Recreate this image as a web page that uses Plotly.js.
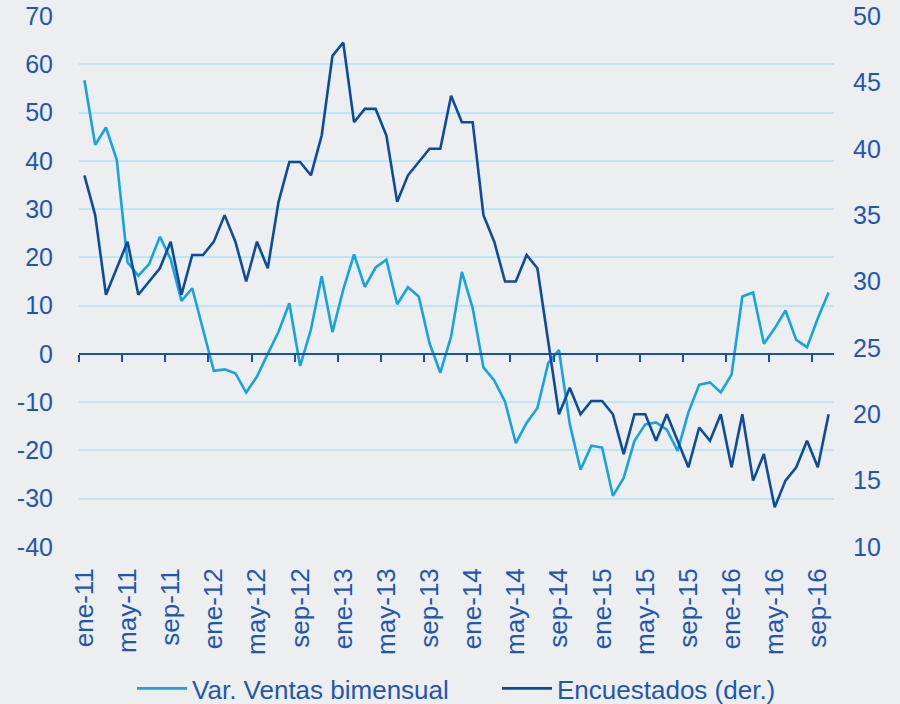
<!DOCTYPE html>
<html>
<head>
<meta charset="utf-8">
<script src="https://cdn.plot.ly/plotly-3.0.1.min.js"></script>
<style>
  html, body { margin: 0; padding: 0; background: #eceef0; }
  #chart { width: 900px; height: 704px; }
</style>
</head>
<body>
<div id="chart"></div>
<script>
// Months (categories), ene-11 .. oct-16
const months = [
  "ene-11","feb-11","mar-11","abr-11","may-11","jun-11","jul-11","ago-11","sep-11","oct-11","nov-11","dic-11",
  "ene-12","feb-12","mar-12","abr-12","may-12","jun-12","jul-12","ago-12","sep-12","oct-12","nov-12","dic-12",
  "ene-13","feb-13","mar-13","abr-13","may-13","jun-13","jul-13","ago-13","sep-13","oct-13","nov-13","dic-13",
  "ene-14","feb-14","mar-14","abr-14","may-14","jun-14","jul-14","ago-14","sep-14","oct-14","nov-14","dic-14",
  "ene-15","feb-15","mar-15","abr-15","may-15","jun-15","jul-15","ago-15","sep-15","oct-15","nov-15","dic-15",
  "ene-16","feb-16","mar-16","abr-16","may-16","jun-16","jul-16","ago-16","sep-16","oct-16"
];

// Tick labels shown on the x axis
const tickLabels = ["ene-11","may-11","sep-11","ene-12","may-12","sep-12","ene-13","may-13","sep-13",
  "ene-14","may-14","sep-14","ene-15","may-15","sep-15","ene-16","may-16","sep-16"];

// Left axis ticks and labels (hyphen minus as in the original)
const leftTicks = [-40, -30, -20, -10, 0, 10, 20, 30, 40, 50, 60, 70];
const leftTickText = ["-40", "-30", "-20", "-10", "0", "10", "20", "30", "40", "50", "60", "70"];

// Right axis ticks
const rightTicks = [10, 15, 20, 25, 30, 35, 40, 45, 50];

// Var. Ventas bimensual (left axis)
const ventas = [
  56.7, 43.3, 46.9, 40.2, 19.0, 16.2, 18.6, 24.3, 19.6, 11.0, 13.6, 5.0,
  -3.5, -3.2, -4.0, -8.0, -4.7, 0.0, 4.6, 10.5, -2.5, 5.0, 16.1, 4.5,
  13.3, 20.6, 13.9, 17.9, 19.5, 10.3, 13.8, 11.9, 2.2, -3.9, 3.6, 17.0,
  9.5, -2.8, -5.5, -9.9, -18.5, -14.3, -11.2, -1.9, 0.8, -14.5, -24.0, -19.0,
  -19.4, -29.4, -25.7, -18.0, -14.6, -14.2, -15.7, -20.1, -12.1, -6.4, -5.9, -8.0,
  -4.3, 11.9, 12.7, 2.1, 5.3, 9.0, 2.9, 1.4, 7.4, 12.7
];

// Encuestados (der.) (right axis)
const encuestados = [
  38, 35, 29, 31, 33, 29, 30, 31, 33, 29, 32, 32,
  33, 35, 33, 30, 33, 31, 36, 39, 39, 38, 41, 47,
  48, 42, 43, 43, 41, 36, 38, 39, 40, 40, 44, 42,
  42, 35, 33, 30, 30, 32, 31, 25.5, 20, 22, 20, 21,
  21, 20, 17, 20, 20, 18, 20, 18, 16, 19, 18, 20,
  16, 20, 15, 17, 13, 15, 16, 18, 16, 20
];

const seriesNames = ["Var. Ventas bimensual", "Encuestados (der.)"];

// Tick-mark positions on the zero line: boundaries between categories, every 4 months
const boundaryTicks = tickLabels.map(l => months.indexOf(l) - 0.5);

const FONT = '"Liberation Sans", Arial, sans-serif';
const TXT = '#1f57b0';
const LIGHT = '#17a3e1';
const DARK = '#0f4b9b';
const ZERO = '#1652a8';

const traces = [
  {
    x: months, y: ventas, name: seriesNames[0], type: 'scatter', mode: 'lines',
    line: { color: LIGHT, width: 2.6 }, xaxis: 'x', yaxis: 'y'
  },
  {
    x: months, y: encuestados, name: seriesNames[1], type: 'scatter', mode: 'lines',
    line: { color: DARK, width: 2.6 }, xaxis: 'x', yaxis: 'y2'
  },
  {
    x: months, y: ventas, type: 'scatter', mode: 'lines', opacity: 0,
    showlegend: false, hoverinfo: 'skip', xaxis: 'x2', yaxis: 'y'
  }
];

const layout = {
  width: 900, height: 704,
  margin: { l: 79, r: 66, t: 16, b: 157 },
  paper_bgcolor: '#eceef0',
  plot_bgcolor: '#eceef0',
  font: { family: FONT, color: TXT, size: 24 },
  showlegend: true,
  legend: {
    orientation: 'h', xref: 'container', x: 0.1467, xanchor: 'left',
    yref: 'container', y: 0.022, yanchor: 'middle',
    font: { family: FONT, color: TXT, size: 26 }, bgcolor: 'rgba(0,0,0,0)',
    itemwidth: 50, entrywidth: 300
  },
  xaxis: {
    type: 'category', categoryorder: 'array', categoryarray: months,
    range: [-0.5, months.length - 0.5],
    tickmode: 'array', tickvals: tickLabels, ticktext: tickLabels,
    tickangle: -90, ticks: '', showline: false, showgrid: false, zeroline: false,
    tickfont: { family: FONT, color: TXT, size: 26 },
    ticklabelstandoff: 15
  },
  xaxis2: {
    type: 'category', categoryorder: 'array', categoryarray: months,
    overlaying: 'x', anchor: 'free', position: 40 / 110,
    range: [-0.5, months.length - 0.5],
    tickmode: 'array', tickvals: boundaryTicks,
    ticks: 'outside', ticklen: 7, tickwidth: 2, tickcolor: ZERO,
    showticklabels: false, showline: true, linecolor: ZERO, linewidth: 2.5,
    showgrid: false, zeroline: false
  },
  yaxis: {
    range: [-40, 70],
    tickmode: 'array', tickvals: leftTicks, ticktext: leftTickText,
    showgrid: true, gridcolor: '#bde7f8', gridwidth: 2,
    zeroline: false, showline: false, ticks: '',
    tickfont: { family: FONT, color: TXT, size: 25 },
    ticklabelstandoff: 25
  },
  yaxis2: {
    overlaying: 'y', side: 'right', anchor: 'x',
    range: [10, 50], tickmode: 'array', tickvals: rightTicks,
    showgrid: false, zeroline: false, showline: false, ticks: '',
    tickfont: { family: FONT, color: TXT, size: 25 },
    ticklabelstandoff: 18
  }
};

Plotly.newPlot('chart', traces, layout, { displayModeBar: false, staticPlot: true });
</script>
</body>
</html>
